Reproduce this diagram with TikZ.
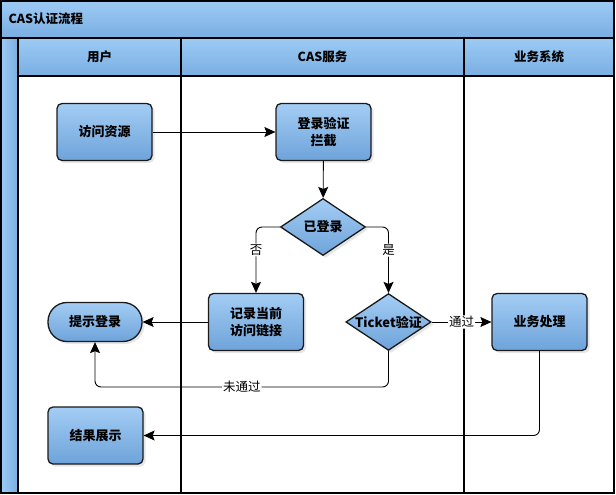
\documentclass[tikz,border=0pt]{standalone}
\usepackage{fontspec}
\setmainfont{Noto Sans CJK SC}
\usetikzlibrary{shapes.geometric,shadows,arrows.meta}
\definecolor{hdtop}{HTML}{9CCBF4}
\definecolor{hdbot}{HTML}{7AAEE2}
\definecolor{bxtop}{HTML}{A3CDF4}
\definecolor{bxbot}{HTML}{6EA3DA}
\definecolor{edge}{HTML}{1A1A1A}
\tikzset{
  box/.style={draw=edge,line width=1.3pt,rounded corners=5pt,minimum width=95pt,minimum height=57pt,
    top color=bxtop,bottom color=bxbot,align=center,font=\bfseries\fontsize{13}{17}\selectfont,
    drop shadow={opacity=0.2,shadow xshift=2.5pt,shadow yshift=-2.5pt}},
  term/.style={box,rounded corners=19pt,minimum height=39pt,minimum width=94pt},
  dia/.style={diamond,aspect=1.5,draw=edge,line width=1.3pt,inner sep=0pt,minimum width=85pt,minimum height=57pt,
    top color=bxtop,bottom color=bxbot,align=center,font=\bfseries\fontsize{13}{17}\selectfont,
    drop shadow={opacity=0.2,shadow xshift=2.5pt,shadow yshift=-2.5pt}},
  conn/.style={draw=black,line width=0.9pt,rounded corners=6pt,-{Stealth[length=11pt,width=10pt,inset=2pt]}},
  lbl/.style={fill=white,inner sep=1pt,font=\fontsize{12.5}{14}\selectfont},
  lane/.style={draw=black,line width=1.4pt},
  hdr/.style={font=\bfseries\fontsize{12.5}{14}\selectfont}
}
\begin{document}
\begin{tikzpicture}[x=1pt,y=-1pt]
\useasboundingbox (0,0) rectangle (616,495);
% title bar and headers
\fill[top color=hdtop,bottom color=hdbot] (1,1) rectangle (614,38);
\fill[top color=hdtop,bottom color=hdbot] (18,38) rectangle (614,76);
\fill[left color=hdtop,right color=hdbot] (1,38) rectangle (18,493);
\draw[lane] (1,1) rectangle (614,493);
\draw[lane] (1,38) -- (614,38);
\draw[lane] (18,38) -- (18,493);
\draw[lane] (18,76) -- (614,76);
\draw[lane] (181,38) -- (181,493);
\draw[lane] (464,38) -- (464,493);
\node[hdr,anchor=west] (title) at (5,19) {CAS认证流程};
\node[hdr] (h1) at (99.5,57) {用户};
\node[hdr] (h2) at (322.5,57) {CAS服务};
\node[hdr] (h3) at (539,57) {业务系统};
% nodes
\node[box] (visit) at (104.5,132) {访问资源};
\node[box] (intercept) at (323.5,132) {登录验证\\拦截};
\node[dia] (logged) at (323,227) {已登录};
\node[box] (record) at (256,322) {记录当前\\访问链接};
\node[dia,minimum width=83pt,minimum height=55pt] (ticket) at (388.5,322) {Ticket验证};
\node[box] (biz) at (539.5,322) {业务处理};
\node[term] (prompt) at (95,322) {提示登录};
\node[box] (result) at (95.5,435.5) {结果展示};
% connectors
\draw[conn] (visit) -- (intercept);
\draw[conn] (intercept) -- (logged);
\draw[conn] (logged.west) -| node[lbl,pos=0.675] (no) {否} (record.north);
\draw[conn] (logged.east) -| node[lbl,pos=0.675] (yes) {是} (ticket.north);
\draw[conn] (record) -- (prompt);
\draw[conn] (ticket) -- node[lbl,pos=0.5] (pass) {通过} (biz);
\coordinate (fb) at (388.5,387);
\draw[conn] (ticket.south) -- (fb) -| node[lbl,pos=0.25] (nopass) {未通过} (prompt.south);
\coordinate (rb) at (539.5,435.5);
\draw[conn] (biz.south) -- (rb) -- (result.east);
\end{tikzpicture}
\end{document}
